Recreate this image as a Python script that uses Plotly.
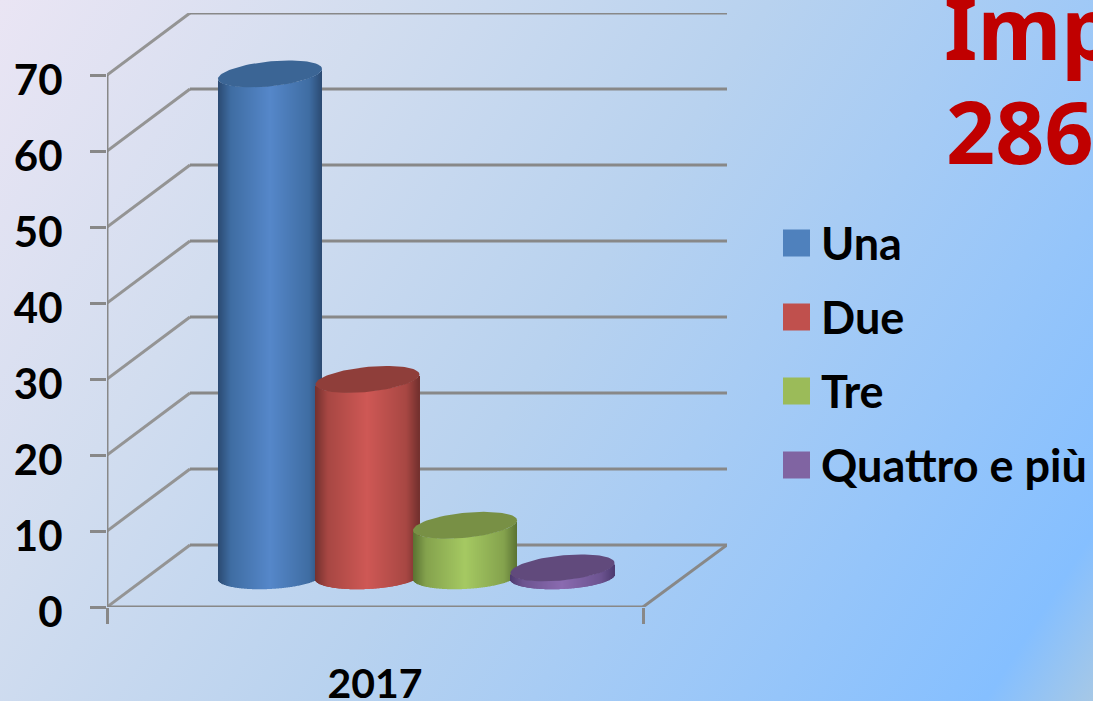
import base64
import numpy as np
import plotly.graph_objects as go

# ---- data ----
year = "2017"
series_names = ["Una", "Due", "Tre", "Quattro e più"]
series_values = [66.2, 26.0, 6.8, 1.2]
y_ticks = [0, 10, 20, 30, 40, 50, 60, 70]
title_lines = ["Imp", "286"]

# ---- styles ----
C_EDGE = ["#2b4a72", "#73302e", "#5a7232", "#4e3b70"]
C_SIDE = ["#3f6da3", "#a84743", "#84a24d", "#6c5390"]
C_MID = ["#5587c9", "#ce5855", "#a5c962", "#8a6bb0"]
C_CAP = ["#3b6595", "#8f3e3a", "#789045", "#614a7c"]
C_LEGEND = ["#4f81bd", "#c0504d", "#9bbb59", "#8064a2"]
GRID = "#888888"
W, H = 1093, 701

# ---- geometry: px positions of the fake 3-D frame ----
PX_X0, PX_X1, PX_XR = 107, 643, 727
PX_Y0, PX_Y70, PX_YT = 607, 75, 13
X_UNIT = PX_X1 - PX_X0
Y_UNIT = (PX_Y0 - PX_Y70) / 70
DX = 83 / X_UNIT
DY = 62 / Y_UNIT
BASE = (PX_Y0 - 577) / Y_UNIT          # floor level of the cylinders
BAR_X0 = (270 - PX_X0) / X_UNIT
BAR_STEP = 97.5 / X_UNIT
BAR_R = 52 / X_UNIT

svg = f"""<svg xmlns='http://www.w3.org/2000/svg' width='{W}' height='{H}' preserveAspectRatio='none'>
<defs><linearGradient id='g' gradientUnits='userSpaceOnUse' x1='0' y1='0' x2='{W}' y2='{H}'>
<stop offset='0' stop-color='#eae5f4'/>
<stop offset='0.25' stop-color='#d2ddef'/>
<stop offset='0.5' stop-color='#b8d2ef'/>
<stop offset='0.93' stop-color='#85bfff'/>
<stop offset='1' stop-color='#a6c8e6'/>
</linearGradient></defs><rect width='{W}' height='{H}' fill='url(#g)'/></svg>"""
bg = "data:image/svg+xml;base64," + base64.b64encode(svg.encode()).decode()

fig = go.Figure()


def lerp_hex(a, b, f):
    ca = [int(a[i:i + 2], 16) for i in (1, 3, 5)]
    cb = [int(b[i:i + 2], 16) for i in (1, 3, 5)]
    return "rgb(%d,%d,%d)" % tuple(round(p + (q - p) * f) for p, q in zip(ca, cb))


def shade(i, u):
    d = abs(u)
    if d > 0.75:
        return lerp_hex(C_SIDE[i], C_EDGE[i], (d - 0.75) / 0.25)
    return lerp_hex(C_MID[i], C_SIDE[i], d / 0.75)


n = 104
for i, (name, v) in enumerate(zip(series_names, series_values)):
    cx = BAR_X0 + i * BAR_STEP
    u = (np.arange(n) + 0.5) / n * 2 - 1
    sin_t = np.sqrt(1 - u ** 2)
    low = BASE - (12 * sin_t - 2.5 * u) / Y_UNIT
    top = BASE + v + (5 * u - 12 * sin_t) / Y_UNIT
    fig.add_trace(go.Bar(
        x=cx + u * BAR_R, y=top - low, base=low, width=2 * BAR_R / n,
        marker=dict(color=[shade(i, a) for a in u], line=dict(width=0)),
        name=name, showlegend=False, hoverinfo="skip"))

for i, (name, v) in enumerate(zip(series_names, series_values)):
    cx = BAR_X0 + i * BAR_STEP
    t = np.linspace(0, 2 * np.pi, 90)
    fig.add_trace(go.Scatter(
        x=cx + BAR_R * np.cos(t),
        y=BASE + v + (5 * np.cos(t) + 12.5 * np.sin(t)) / Y_UNIT,
        mode="lines", line=dict(width=0), fill="toself", fillcolor=C_CAP[i],
        name=name + " top", showlegend=False, hoverinfo="skip"))

# legend drawn in a full-page pixel axis so that swatches can be as large as the original
LEG_Y = [243, 317, 391, 465]
fig.add_trace(go.Scatter(
    x=[796.5] * 4, y=LEG_Y, xaxis="x2", yaxis="y2", mode="markers",
    marker=dict(symbol="square", size=27, color=C_LEGEND, line=dict(width=0)),
    showlegend=False, hoverinfo="skip"))

shapes = []


def seg(x0, y0, x1, y1, w=3, color=GRID):
    shapes.append(dict(type="line", xref="x", yref="y", x0=x0, y0=y0, x1=x1, y1=y1,
                       layer="below", line=dict(color=color, width=w)))


for tv in y_ticks:
    seg(0, tv, DX, tv + DY, w=3, color="#949494")        # side wall
    seg(DX, tv + DY, (PX_XR - PX_X0) / X_UNIT, tv + DY)  # back wall
seg(0, 0, 0, y_ticks[-1])                                # value axis
seg(0, 0, 1, 0)                                          # front floor edge
seg(1, 0, (PX_XR - PX_X0) / X_UNIT, DY)                  # right floor edge

annotations = [
    dict(text=f"<b>{title_lines[0]}</b>", x=942, y=26, xref="x2", yref="y2", xanchor="left", yanchor="middle",
         showarrow=False, font=dict(family="Noto Sans", size=86, color="#c00000")),
    dict(text=f"<b>{title_lines[1]}</b>", x=944, y=130, xref="x2", yref="y2", xanchor="left", yanchor="middle",
         showarrow=False, font=dict(family="Noto Sans", size=86, color="#c00000")),
]
for name, ly in zip(series_names, LEG_Y):
    annotations.append(dict(text=f"<b>{name}</b>", x=819, y=ly, xref="x2", yref="y2", xanchor="left",
                            yanchor="middle", showarrow=False,
                            font=dict(family="Lato", size=45, color="black")))

fig.update_layout(
    width=W, height=H, autosize=False, margin=dict(l=0, r=0, t=0, b=0, pad=0, autoexpand=False), barmode="overlay",
    paper_bgcolor="rgba(0,0,0,0)", plot_bgcolor="rgba(0,0,0,0)", showlegend=False,
    images=[dict(source=bg, xref="paper", yref="paper", x=0, y=1, sizex=1, sizey=1,
                 sizing="stretch", xanchor="left", yanchor="top", layer="below")],
    shapes=shapes, annotations=annotations,
    xaxis=dict(domain=[PX_X0 / W, PX_XR / W], range=[0, (PX_XR - PX_X0) / X_UNIT], showgrid=False,
               zeroline=False, tickmode="array", tickvals=[0.5], ticktext=[f"<b>{year}</b>"], ticks="",
               ticklabelstandoff=49, tickfont=dict(family="Lato", size=41, color="black"),
               minor=dict(tickmode="array", tickvals=[0, 1], ticks="outside", ticklen=16, tickwidth=3,
                          tickcolor=GRID, showgrid=False)),
    yaxis=dict(domain=[(H - PX_Y0) / H, (H - PX_YT) / H], range=[0, (PX_Y0 - PX_YT) / Y_UNIT], showgrid=False,
               zeroline=False, tickmode="array", tickvals=y_ticks, ticktext=[f"<b>{t}</b>" for t in y_ticks],
               ticks="outside", ticklen=16, tickwidth=3, tickcolor=GRID, ticklabelstandoff=19, ticklabelshift=5,
               tickfont=dict(family="Lato", size=42, color="black")),
    xaxis2=dict(domain=[0, 1], range=[0, W], visible=False, anchor="y2"),
    yaxis2=dict(domain=[0, 1], range=[H, 0], visible=False, anchor="x2"),
)

fig.write_html("out.html", config={"displayModeBar": False},
               post_script="document.body.style.margin='0';")
